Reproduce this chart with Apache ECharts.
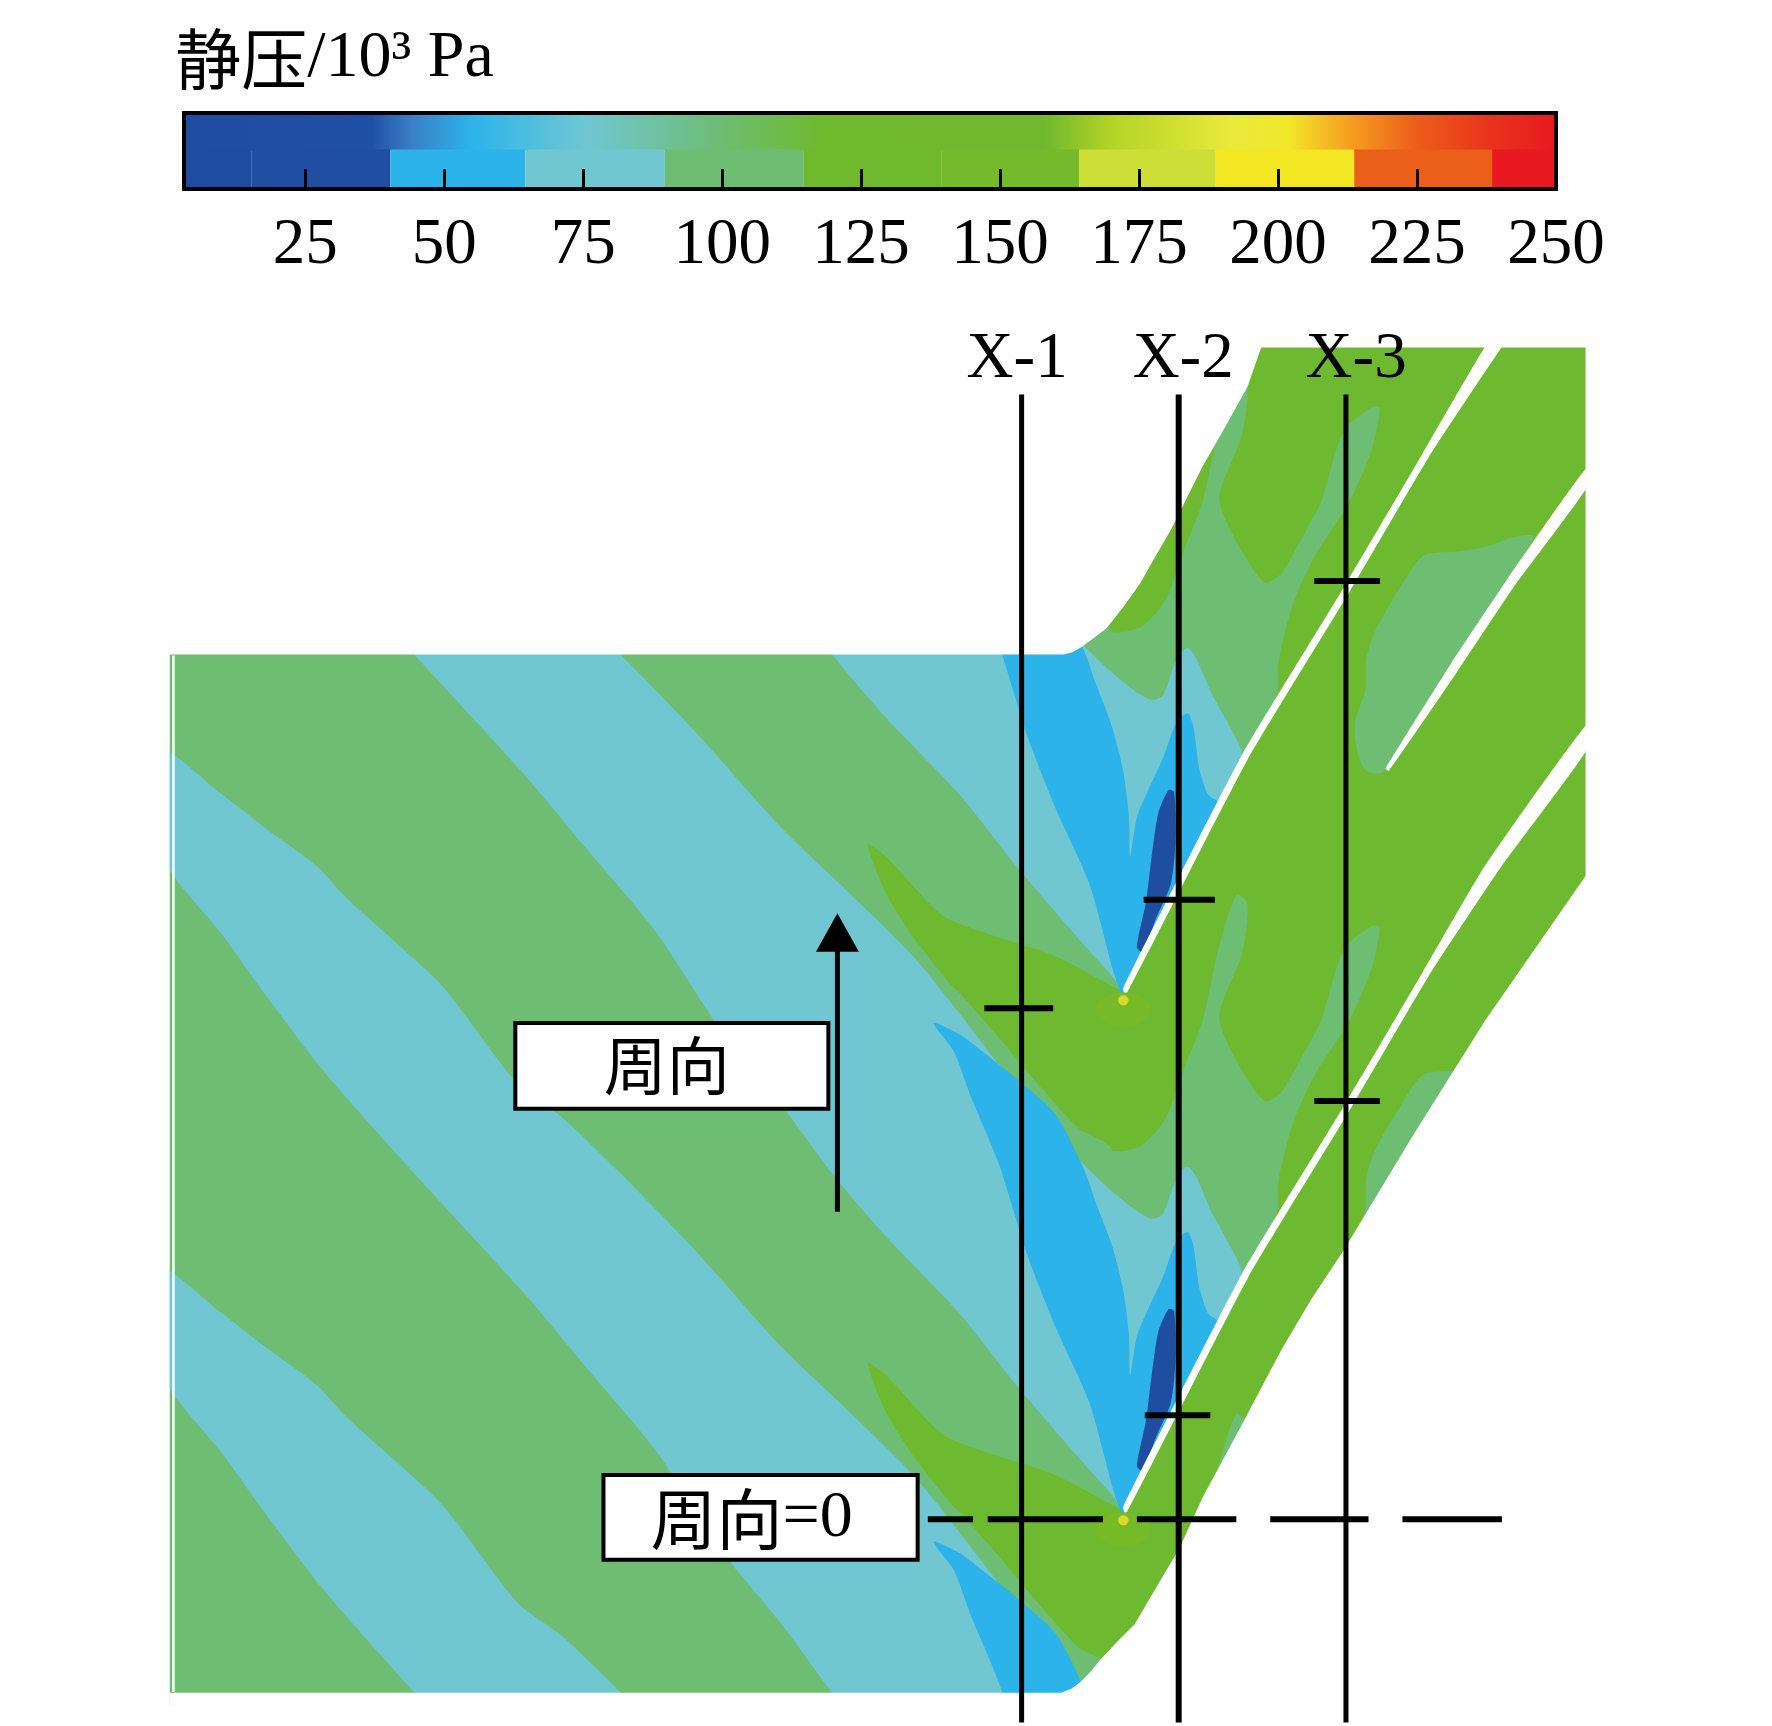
<!DOCTYPE html>
<html>
<head>
<meta charset="utf-8">
<style>html,body{margin:0;padding:0;background:#fff}#c{width:1772px;height:1726px}</style>
<script src="https://cdn.jsdelivr.net/npm/echarts@6/dist/echarts.min.js"></script>
</head>
<body>
<div id="c"></div>
<script>
// ---------- colour bar data ----------
const tickValues = [25, 50, 75, 100, 125, 150, 175, 200, 225, 250];
const barMin = 3.2, barMax = 250;
const cellEdges = [3.2, 15.3, 40.3, 64.6, 89.7, 114.7, 139.4, 164.2, 188.8, 213.7, 238.5, 250];
const cellColors = ['#1f4ca0', '#1f4ea3', '#2cb3e9', '#70c7d2', '#6dbd72', '#6fb92f', '#75ba2a', '#cddf37', '#f3e622', '#ec5f1b', '#e8191f'];
const gradientValues = [3.2, 37, 44, 55, 75.8, 100, 118, 158, 170, 191.7, 201.8, 212, 225, 238.5, 250];
const gradientColors = ['#1f4ca0', '#2050a5', '#3a7ec5', '#2cb4ea', '#70c7d2', '#6dbd72', '#6fb92f', '#70b82d', '#b3d425', '#e9ea3c', '#f1e72a', '#f6a420', '#ec5d1a', '#e8331d', '#e8191f'];

// ---------- contour field outlines, in picture units (1568 wide, 1527 tall) ----------
const PITCH = 459;
const bright = '#6db92f', mid = '#6dbd72', cyan = '#70c7d2', sky = '#2cb3e9', dark = '#1f4ea1';
const fieldRect = [[150,300],[1403,300],[1403,1510],[150,1510]];
const upperCurve = [[140,203],[194,242],[234,273],[280,307],[305,334],[346,371],[392,414],[458,500],[498,530],[549,579],[615,647],[691,732],[742,781],[808,846],[854,903],[904,968],[959,1030],[984,1054],[1004,1070],[1019,1078],[1029,1074],[1041,1042],[1051,1032],[1059,1042],[1071,1070],[1084,1094],[1099,1127]];
const lowerCurve = [[140,293],[199,371],[234,420],[285,487],[350,561],[417,634],[468,690],[519,751],[580,824],[641,916],[691,977],[737,1039],[784,1094],[849,1162],[899,1225],[954,1289],[986,1325],[994,1337]];
const bandBladeEdge = [[1085,1155],[1008,1310]];
const bladeLeft = [[994,1333],[1099,1127],[1189,979],[1259,860],[1314,766],[1403,642]];
const bladeRight = [[1403,665],[1329,766],[1264,864],[1194,983],[1104,1131],[996,1340]];
const tongueUpper = [[768,1206],[784,1217],[834,1269],[874,1285],[934,1305],[991,1335]];
const tongueLower = [[984,1477],[954,1457],[914,1413],[884,1377],[844,1333],[809,1289],[784,1249]];
const passageOutline = [[844,874],[884,918],[914,954],[954,998],[984,1018],[1009,1014],[1031,990],[1049,942],[1064,903],[1079,836],[1094,792],[1104,800],[1099,844],[1079,899],[1094,938],[1119,974],[1134,966],[1159,922],[1169,903],[1189,840],[1214,819],[1221,820],[1214,856],[1194,903],[1164,950],[1144,994],[1131,1046],[1130,1072]];
const skyOutline = [[826,905],[849,915],[869,930],[899,954],[934,986],[959,1034],[969,1062],[984,1102],[994,1142],[999,1182],[1000,1217],[1006,1182],[1016,1158],[1029,1130],[1041,1098],[1051,1090],[1056,1102],[1061,1138],[1069,1162],[1079,1170],[1066,1196],[1007,1313],[994,1339],[986,1321],[964,1241],[934,1174],[909,1110],[884,1030],[859,970],[844,930]];
const darkOutline = [[1034,1158],[1039,1160],[1040,1205],[1036,1241],[1024,1269],[1011,1301],[1006,1297],[1014,1257],[1019,1217],[1025,1178]];
const lensOutline = [[1224,683],[1209,682],[1201,666],[1199,638],[1208,611],[1209,583],[1216,560],[1234,528],[1259,492],[1289,488],[1314,484],[1339,475],[1357,475],[1290,580]];
const splitterBlade = [[1226,680],[1284,587],[1334,512],[1403,415],[1403,433],[1339,520],[1289,595],[1229,682]];
const maskUpper = [[0,0],[1568,0],[1568,307.5],[1116,307.5],[1104,342],[1084,378],[1064,413],[1050,441],[1036,469],[1022,493],[1009,516],[994,537],[979,556],[967,565],[956,573],[949,577],[941,579],[150,579],[150,1527],[0,1527]];
const maskLower = [[1403,300],[1568,300],[1568,1527],[150,1527],[150,1497.5],[939,1497.5],[948,1494],[956,1488],[965,1479],[974,1468],[989,1452],[1004,1437],[1024,1403],[1044,1369],[1064,1325],[1098,1262],[1134,1194],[1160,1150],[1189,1106],[1250,1005],[1314,903],[1403,775]];
const brightShifts = [-918, -459, 0];
const passageShifts = [-459, 0, 459];
const bandShifts = [-459, 0, 459, 918];
const bladeShifts = [-459, 0];
const lensShifts = [0, 459];
const tipPoints = [[994,885],[994,1345]];
const haloPoints = [[994,893],[994,1353]];

// ---------- annotations ----------
const sectionLines = [[904,349,904,1524],[1043,349,1043,1524],[1191,349,1191,1524]];
const sectionWidths = [5, 6, 5];
const shortTicks = [[871,892,932,892],[1012,796,1075,796],[1163,514,1221,514],[1163,974,1221,974],[1013,1252,1071,1252]];
const zeroDashes = [[821,1344,861,1344],[874,1344,976,1344],[1006,1344,1094,1344],[1124,1344,1211,1344],[1241,1344,1329,1344]];
const arrowShaft = [[741,1072,741,840]];
const arrowHead = [[741,808],[722,842],[760,842]];
const inletLine = [[153.5,580,153.5,1497]];
const boxes = [[456,905,733,981],[534,1305,812,1380]];
const sectionLabels = [['X-1',900,318],['X-2',1047,318],['X-3',1200,318]];

const CJK = '"Noto Sans CJK SC"', SERIF = '"Liberation Serif"';
const shift = (p, dy) => p.map(q => [q[0], q[1] + dy]);

const fields = {
  bright: brightShifts.map(s => [
    ...shift(tongueUpper, s),
    ...shift(bladeLeft, s),
    ...shift(bladeLeft.slice().reverse(), s + PITCH),
    ...shift(tongueLower, s)
  ]),
  passage: passageShifts.map(s => shift([...passageOutline, ...upperCurve.slice(14).reverse()], s)),
  band: bandShifts.map(s => shift([...upperCurve, ...bandBladeEdge, ...lowerCurve.slice().reverse()], s)),
  sky: passageShifts.map(s => shift(skyOutline, s)),
  dark: bladeShifts.map(s => shift(darkOutline, s)),
  lens: lensShifts.map(s => shift(lensOutline, s)),
  blades: [...bladeShifts.map(s => shift([...bladeLeft, ...bladeRight], s)), splitterBlade]
};

function polySeries(name, polys, color, z, smooth) {
  return {
    type: 'custom', name, xAxisIndex: 0, yAxisIndex: 0, z, silent: true, clip: false,
    data: polys.map((_, i) => [i, 0]),
    renderItem: (params, api) => ({
      type: 'polygon',
      shape: { points: polys[params.dataIndex].map(p => api.coord(p)), smooth: smooth || 0 },
      style: { fill: color }
    })
  };
}
function segSeries(name, segs, widths, color, z) {
  return {
    type: 'custom', name, xAxisIndex: 0, yAxisIndex: 0, z, silent: true, clip: false,
    data: segs.map((_, i) => [i, 0]),
    renderItem: (params, api) => {
      const s = segs[params.dataIndex];
      const a = api.coord([s[0], s[1]]), b = api.coord([s[2], s[3]]);
      return {
        type: 'line',
        shape: { x1: a[0], y1: a[1], x2: b[0], y2: b[1] },
        style: { stroke: color, lineWidth: Array.isArray(widths) ? widths[params.dataIndex] : widths, fill: null }
      };
    }
  };
}
function ellipseSeries(name, pts, rx, ry, color, z) {
  return {
    type: 'custom', name, xAxisIndex: 0, yAxisIndex: 0, z, silent: true, clip: false,
    data: pts.map((_, i) => [i, 0]),
    renderItem: (params, api) => {
      const c = api.coord(pts[params.dataIndex]);
      const sz = api.size([rx, ry]);
      return { type: 'ellipse', shape: { cx: c[0], cy: c[1], rx: sz[0], ry: sz[1] }, style: { fill: color } };
    }
  };
}
const texts = [
  { at: [155, 52], align: 'left', text: '{c|静压}{t|/10³ Pa}', rich: { c: { font: '66px ' + CJK }, t: { font: '66px ' + SERIF } } },
  { at: [590, 942], align: 'center', text: '周向', font: '63px ' + CJK },
  { at: [665, 1344], align: 'center', text: '{c|周向}{t|=0}', rich: { c: { font: '66px ' + CJK }, t: { font: '66px ' + SERIF } } },
  ...sectionLabels.map(l => ({ at: [l[1], l[2]], align: 'center', text: l[0], font: '65px ' + SERIF }))
];

const series = [
  polySeries('field', [fieldRect], mid, 1),
  polySeries('bright', fields.bright, bright, 2, 0.25),
  polySeries('passage', fields.passage, mid, 3, 0.25),
  polySeries('band', fields.band, cyan, 4, 0.25),
  polySeries('sky', fields.sky, sky, 5, 0.25),
  polySeries('dark', fields.dark, dark, 6, 0.25),
  polySeries('lens', fields.lens, mid, 7, 0.25),
  polySeries('blades', fields.blades, '#ffffff', 8, 0.15),
  ellipseSeries('halo', haloPoints, 25, 15, '#76ba27', 8),
  ellipseSeries('tip', tipPoints, 4.5, 4.5, '#dcd92a', 9),
  polySeries('maskUpper', [maskUpper], '#ffffff', 10),
  polySeries('maskLower', [maskLower], '#ffffff', 10),
  segSeries('inlet', inletLine, 2.5, '#ffffff', 11),
  segSeries('arrowShaft', arrowShaft, 5, '#000', 12),
  polySeries('arrowHead', [arrowHead], '#000', 12),
  {
    type: 'custom', name: 'boxes', xAxisIndex: 0, yAxisIndex: 0, z: 13, silent: true, clip: false,
    data: boxes.map((_, i) => [i, 0]),
    renderItem: (params, api) => {
      const b = boxes[params.dataIndex];
      const a = api.coord([b[0], b[1]]), c = api.coord([b[2], b[3]]);
      return { type: 'rect', shape: { x: a[0], y: a[1], width: c[0] - a[0], height: c[1] - a[1] }, style: { fill: '#fff', stroke: '#000', lineWidth: 4 } };
    }
  },
  segSeries('sections', sectionLines, sectionWidths, '#000', 14),
  segSeries('shortTicks', shortTicks, 6, '#000', 14),
  segSeries('zeroDashes', zeroDashes, 6, '#000', 14),
  {
    type: 'custom', name: 'texts', xAxisIndex: 0, yAxisIndex: 0, z: 15, silent: true, clip: false,
    data: texts.map((_, i) => [i, 0]),
    renderItem: (params, api) => {
      const t = texts[params.dataIndex];
      const c = api.coord(t.at);
      return { type: 'text', style: { x: c[0], y: c[1], text: t.text, font: t.font, rich: t.rich, align: t.align, verticalAlign: 'middle', fill: '#000' } };
    }
  },
  // colour bar, on its own value axis
  {
    type: 'custom', name: 'barGradient', xAxisIndex: 1, yAxisIndex: 1, z: 20, silent: true, clip: false,
    data: [[0, 0]],
    renderItem: (params, api) => {
      const a = api.coord([barMin, 1]), b = api.coord([barMax, 0.5]);
      return {
        type: 'rect', shape: { x: a[0], y: a[1], width: b[0] - a[0], height: b[1] - a[1] },
        style: { fill: new echarts.graphic.LinearGradient(0, 0, 1, 0, gradientValues.map((v, i) => ({ offset: (v - barMin) / (barMax - barMin), color: gradientColors[i] }))) }
      };
    }
  },
  {
    type: 'custom', name: 'barCells', xAxisIndex: 1, yAxisIndex: 1, z: 21, silent: true, clip: false,
    data: cellColors.map((_, i) => [i, 0]),
    renderItem: (params, api) => {
      const i = params.dataIndex;
      const a = api.coord([cellEdges[i], 0.52]), b = api.coord([cellEdges[i + 1], 0]);
      return { type: 'rect', shape: { x: a[0], y: a[1], width: b[0] - a[0], height: b[1] - a[1] }, style: { fill: cellColors[i] } };
    }
  },
  {
    type: 'custom', name: 'barFrame', xAxisIndex: 1, yAxisIndex: 1, z: 22, silent: true, clip: false,
    data: [[0, 0]],
    renderItem: (params, api) => {
      const a = api.coord([barMin, 1]), b = api.coord([barMax, 0]);
      return { type: 'rect', shape: { x: a[0], y: a[1], width: b[0] - a[0], height: b[1] - a[1] }, style: { fill: null, stroke: '#000', lineWidth: 4 } };
    }
  }
];

const chart = echarts.init(document.getElementById('c'), null, { renderer: 'canvas', width: 1772, height: 1726 });
chart.setOption({
  animation: false,
  backgroundColor: '#ffffff',
  grid: [
    { left: 0, top: 0, width: 1772, height: 1726, show: false },
    { left: 184, top: 113, width: 1372, height: 76, show: false }
  ],
  xAxis: [
    { gridIndex: 0, type: 'value', min: 0, max: 1568, show: false },
    {
      gridIndex: 1, type: 'value', min: barMin, max: barMax, z: 30,
      splitLine: { show: false },
      axisLine: { show: false },
      axisTick: { show: true, inside: true, length: 20, lineStyle: { color: '#000', width: 3 }, customValues: tickValues.slice(0, -1) },
      axisLabel: { show: true, margin: 24, color: '#000', fontFamily: SERIF.replace(/"/g, ''), fontSize: 65, customValues: tickValues, hideOverlap: false, showMinLabel: true, showMaxLabel: true }
    }
  ],
  yAxis: [
    { gridIndex: 0, type: 'value', min: 0, max: 1527, inverse: true, show: false },
    { gridIndex: 1, type: 'value', min: 0, max: 1, show: false }
  ],
  series
});
</script>
</body>
</html>
